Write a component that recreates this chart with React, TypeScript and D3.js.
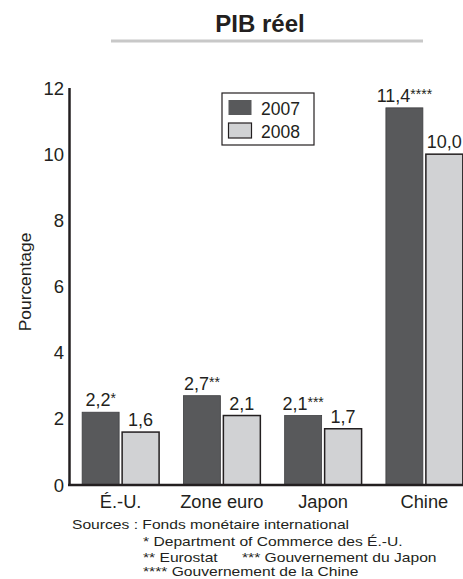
import React from "react";
import * as d3 from "d3";

const categories = ["É.-U.", "Zone euro", "Japon", "Chine"];
const series = ["2007", "2008"];
const values2007 = [2.2, 2.7, 2.1, 11.4];
const values2008 = [1.6, 2.1, 1.7, 10.0];
const notes2007 = ["*", "**", "***", "****"];
const notes2008 = ["", "", "", ""];
const yTicks = [0, 2, 4, 6, 8, 10, 12];
const sourceLines = [
  "Sources : Fonds monétaire international",
  "* Department of Commerce des É.-U.",
  "** Eurostat",
  "*** Gouvernement du Japon",
  "**** Gouvernement de la Chine",
];

const W = 463;
const H = 579;
const FONT = "'Liberation Sans', Arial, Helvetica, sans-serif";
const DARK = "#58595b";
const LIGHT = "#d1d2d4";
const INK = "#231f20";

const locale = d3.formatLocale({ decimal: ",", thousands: " ", grouping: [3], currency: ["", ""] });
const fmt = locale.format(".1f");

const srcPos: [number, number][] = [
  [72, 528.5],
  [143, 545.5],
  [143, 561.5],
  [242, 561.5],
  [143, 576],
];

export default function App() {
  const y = d3.scaleLinear().domain([0, 12]).range([485, 88]);
  const x0 = d3.scaleBand<string>().domain(categories).range([70, 475]).paddingInner(0.24).paddingOuter(0.12);
  const x1 = d3.scaleBand<string>().domain(series).range([0, x0.bandwidth()]).paddingInner(0.075).paddingOuter(0);
  const seriesValues = [values2007, values2008];
  const seriesNotes = [notes2007, notes2008];
  const fills = [DARK, LIGHT];

  return (
    <svg width={W} height={H} style={{ position: "absolute", left: 0, top: 0, background: "#fff" }} fontFamily={FONT}>
      <rect x={0} y={0} width={W} height={H} fill="#fff" />
      <text x={260} y={32} textAnchor="middle" fontSize={24} fontWeight="bold" fill={INK}>PIB réel</text>
      <line x1={111} x2={423} y1={41} y2={41} stroke="#c8c8c8" strokeWidth={3} />

      {yTicks.map((t) => (
        <text key={t} x={64} y={y(t)} dy="0.36em" textAnchor="end" fontSize={18.5} fill={INK}>{t}</text>
      ))}
      <text transform={`translate(31,${282}) rotate(-90)`} textAnchor="middle" fontSize={17.4} fill={INK}>Pourcentage</text>

      {categories.map((c, i) => (
        <g key={c} transform={`translate(${x0(c)},0)`}>
          {series.map((s, j) => {
            const v = seriesValues[j][i];
            const bx = x1(s) as number;
            const bw = x1.bandwidth();
            return (
              <g key={s}>
                <rect x={bx} y={y(v)} width={bw} height={y(0) - y(v)} fill={fills[j]}
                  stroke={j === 0 ? "#3e3f41" : INK} strokeWidth={j === 0 ? 0.8 : 1.5} />
                <text x={bx + bw / 2} y={y(v) - 6} textAnchor="middle" fontSize={18} fill={INK}>
                  {fmt(v)}
                  {seriesNotes[j][i] ? <tspan fontSize={14} dy={-3}>{seriesNotes[j][i]}</tspan> : null}
                </text>
              </g>
            );
          })}
        </g>
      ))}

      <line x1={69.5} x2={69.5} y1={88} y2={486} stroke={INK} strokeWidth={2.5} />
      <line x1={68} x2={W} y1={485} y2={485} stroke={INK} strokeWidth={2.5} />

      {categories.map((c) => (
        <text key={c} x={(x0(c) as number) + x0.bandwidth() / 2} y={508} textAnchor="middle" fontSize={18.3} fill={INK}>{c}</text>
      ))}

      <rect x={222} y={93} width={92} height={52} fill="#fff" stroke={INK} strokeWidth={1.2} />
      {series.map((s, j) => (
        <g key={s}>
          <rect x={228.5} y={100 + j * 23} width={23} height={15} fill={fills[j]} stroke={j === 0 ? "none" : INK} strokeWidth={1.2} />
          <text x={261} y={114.5 + j * 23} fontSize={17.5} fill={INK}>{s}</text>
        </g>
      ))}

      {sourceLines.map((line, k) => (
        <text key={k} transform={`translate(${srcPos[k][0]},${srcPos[k][1]}) scale(1.15,1)`} fontSize={13.6} fill={INK}>{line}</text>
      ))}
    </svg>
  );
}
